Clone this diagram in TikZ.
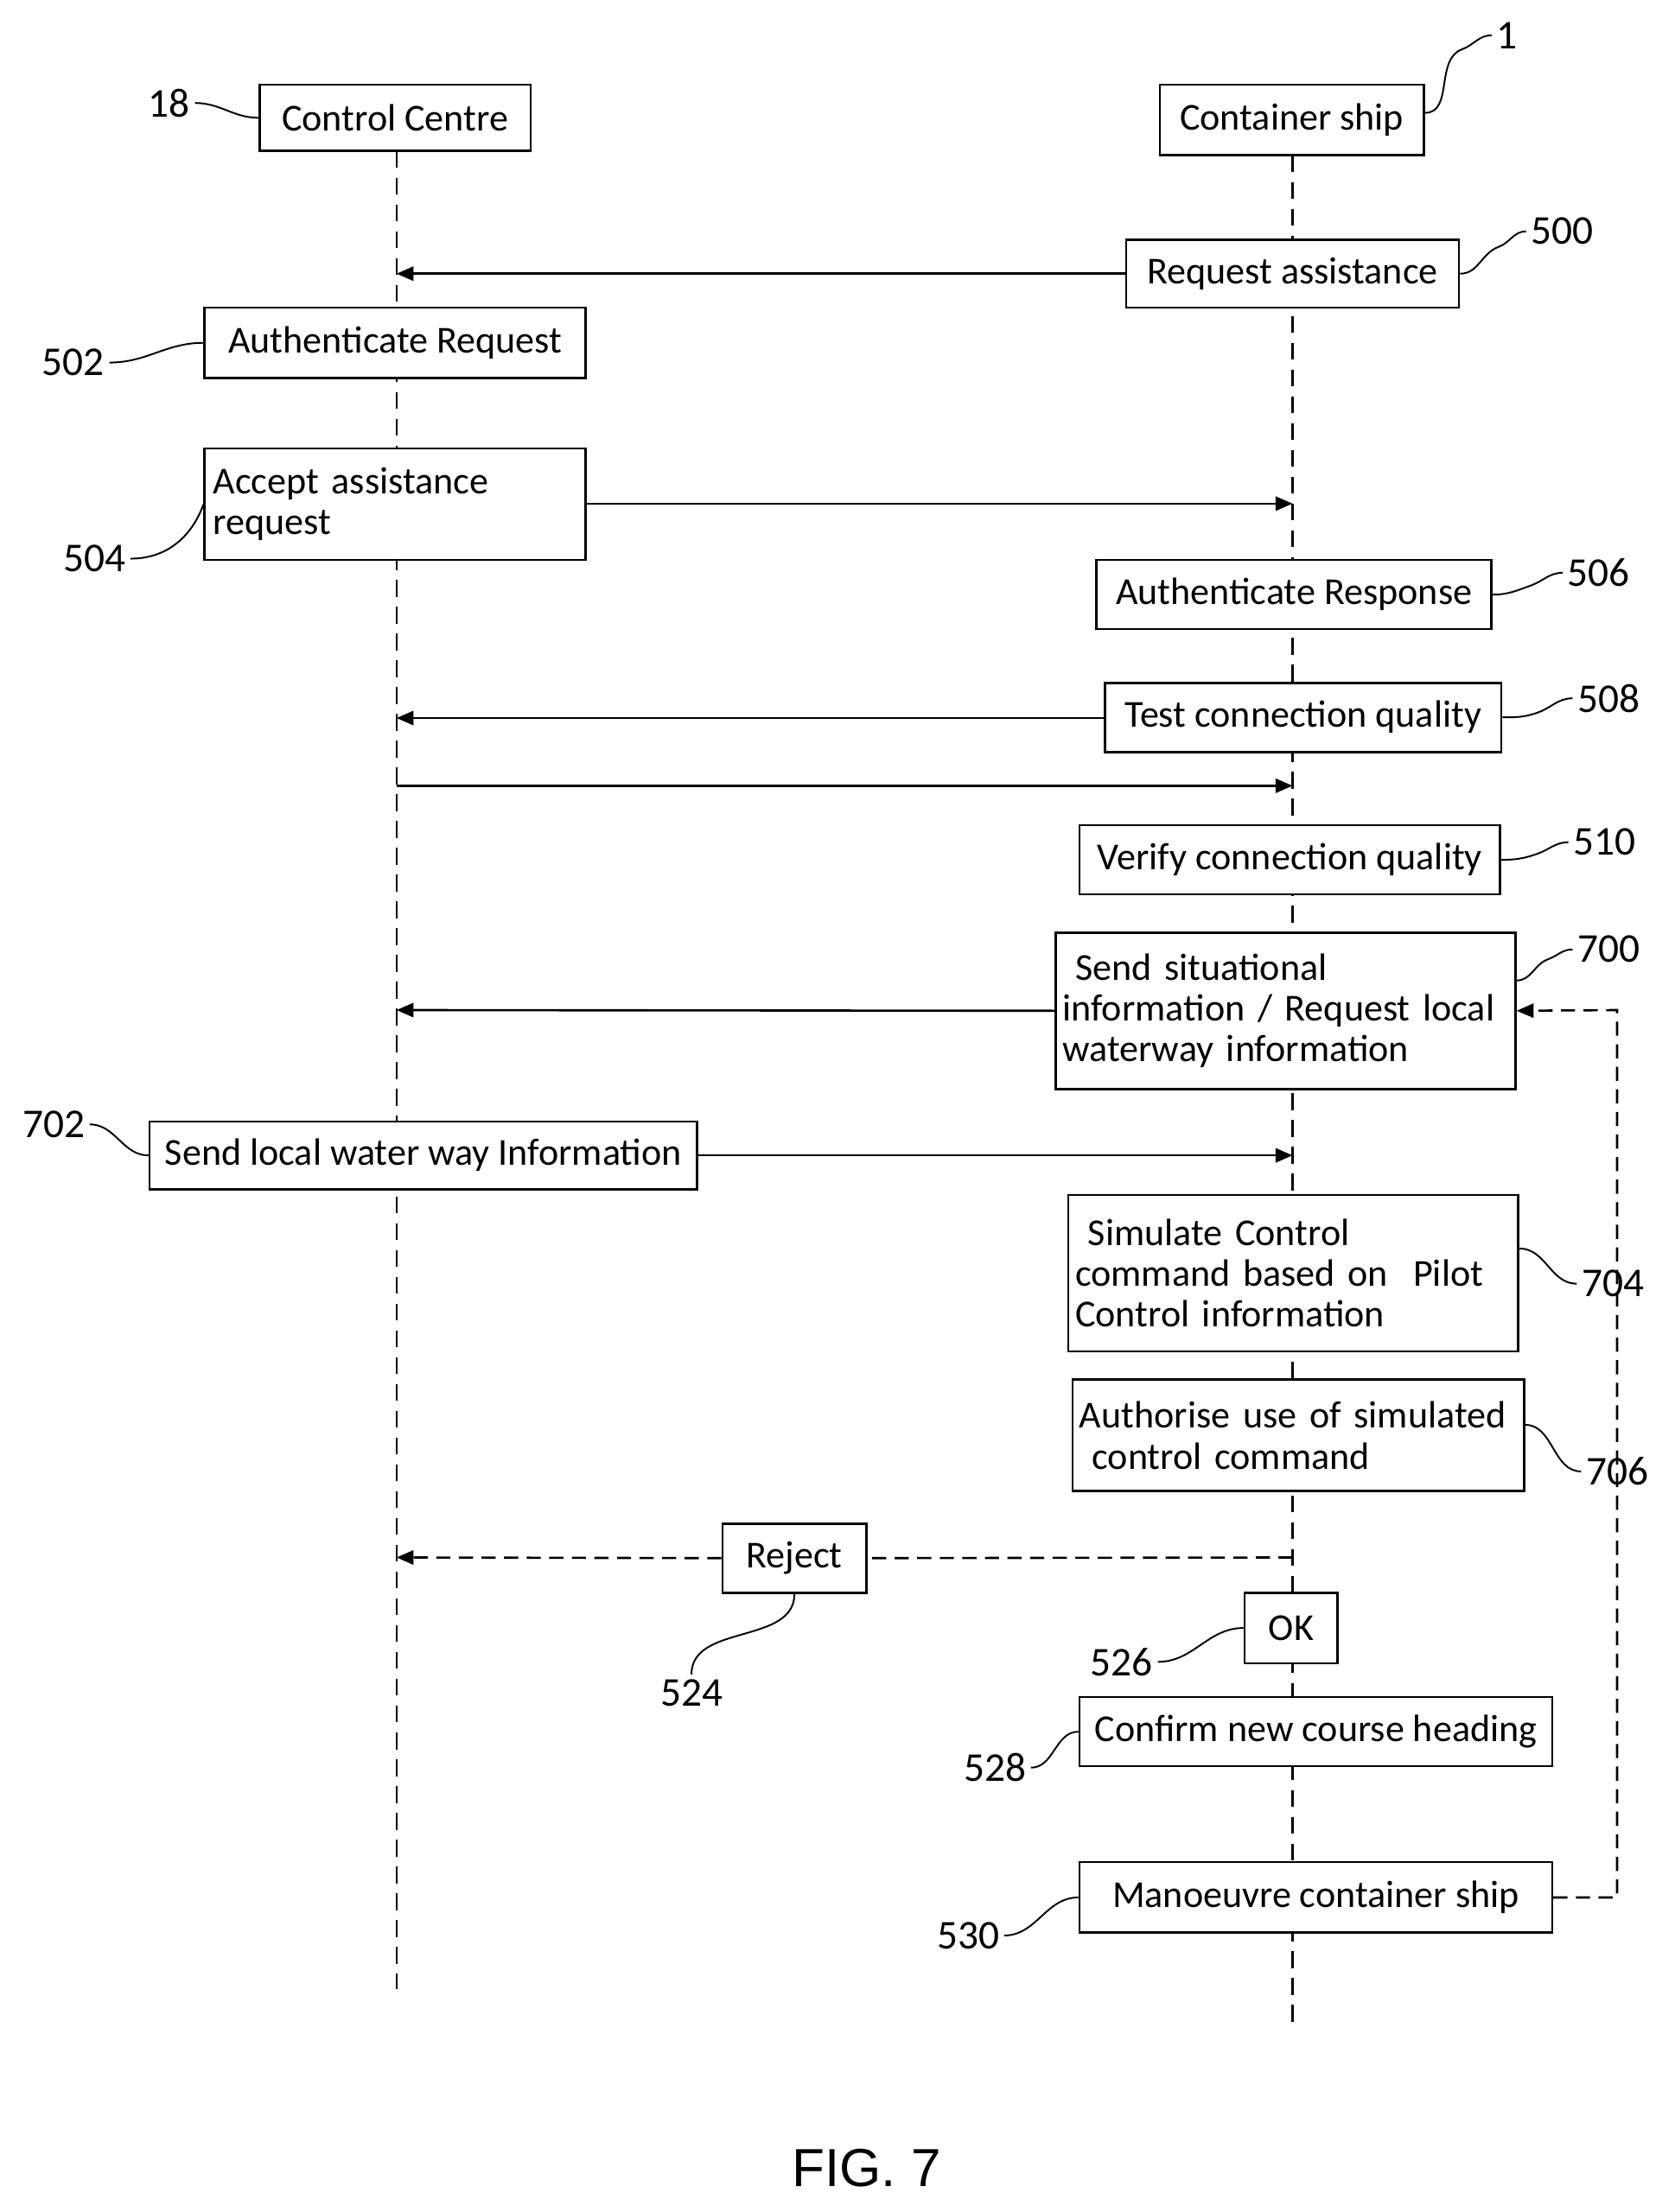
\documentclass[tikz,border=0pt]{standalone}
\usepackage{fontspec}
\setmainfont{Carlito}
\newfontfamily\figfont{Liberation Sans}
\usetikzlibrary{arrows.meta}
\begin{document}
\begin{tikzpicture}[x=1pt,y=-1pt,
  box/.style={draw,line width=1.6pt,inner sep=3pt,font=\fontsize{27}{27}\selectfont},
  mbox/.style={box,align=left,font=\fontsize{27}{29}\selectfont},
  life/.style={line width=1.5pt,dash pattern=on 12pt off 7pt},
  msg/.style={line width=1.6pt,-{Triangle[length=12pt,width=10pt]}},
  dmsg/.style={msg,dash pattern=on 10pt off 6pt},
  lab/.style={font=\fontsize{29}{29}\selectfont},
  lead/.style={line width=1.2pt}]
\useasboundingbox (0,0) rectangle (1187,1568);
% lifelines
\coordinate (L0) at (281,107); \coordinate (L1) at (281,1410);
\coordinate (R0) at (916,110); \coordinate (R1) at (916,1435);
\draw[life] (L0) -- (L1);
\draw[life] (R0) -- (R1);
% boxes
\node[box,minimum width=192,minimum height=47] (cc) at (280,83.5) {Control Centre};
\node[box,minimum width=187,minimum height=50] (cs) at (915.5,85) {Container ship};
\node[box,fill=white,minimum width=236,minimum height=48] (b500) at (916,194) {Request assistance};
\node[box,fill=white,minimum width=270,minimum height=50] (b502) at (280,243) {Authenticate Request};
\node[mbox,fill=white,minimum width=270,minimum height=79,text width=258] (b504) at (280,357.5) {Accept assistance\\ request};
\node[box,fill=white,minimum width=280,minimum height=49] (b506) at (917,421.5) {Authenticate Response};
\node[box,fill=white,minimum width=281,minimum height=49] (b508) at (923.5,508.5) {Test connection quality};
\node[box,fill=white,minimum width=298,minimum height=49] (b510) at (914,609.5) {Verify connection quality};
\node[mbox,fill=white,minimum width=326,minimum height=111,text width=316] (b700) at (911,716.5) {~Send situational\\information / Request local\\waterway information};
\node[box,fill=white,minimum width=388,minimum height=48] (b702) at (300,819) {Send local water way Information};
\node[mbox,fill=white,minimum width=319,minimum height=111,text width=309] (b704) at (916.5,902.5) {~Simulate Control\\ command based on~ Pilot\\ Control information};
\node[mbox,fill=white,minimum width=320,minimum height=79,text width=310] (b706) at (920,1017.5) {Authorise use of simulated\\ ~control command};
\node[box,fill=white,minimum width=102,minimum height=49] (b524) at (563,1104.5) {Reject};
\node[box,fill=white,minimum width=66,minimum height=50] (b526) at (915,1154) {OK};
\node[box,fill=white,minimum width=335,minimum height=49] (b528) at (932.5,1227.5) {Confirm new course heading};
\node[box,fill=white,minimum width=335,minimum height=50] (b530) at (932.5,1345) {Manoeuvre container ship};
% lifeline points
\coordinate (l194) at (281,194); \coordinate (r357) at (916,357);
\coordinate (l509) at (281,509); \coordinate (l557) at (281,557); \coordinate (r557) at (916,557);
\coordinate (l716) at (281,716); \coordinate (r819) at (916,819);
\coordinate (r1104) at (916,1104); \coordinate (l1104) at (281,1104);
\coordinate (c1) at (1146,1345); \coordinate (c2) at (1146,716);
% messages
\draw[msg] (b500.west) -- (l194);
\draw[msg] (b504.east|-r357) -- (r357);
\draw[msg] (b508.west|-l509) -- (l509);
\draw[msg] (l557) -- (r557);
\draw[msg] (b700.west) -- (l716);
\draw[msg] (b702.east) -- (r819);
\draw[line width=1.6pt,dash pattern=on 10pt off 6pt] (r1104) -- (b524.east);
\draw[dmsg] (b524.west) -- (l1104);
\draw[dmsg] (b530.east) -- (c1) -- (c2) -- (b700.east);
% labels
\node[lab] (t18) at (120,73) {18};
\node[lab] (t1) at (1068,25) {1};
\node[lab] (t500) at (1107,164) {500};
\node[lab] (t502) at (52,257) {502};
\node[lab] (t504) at (67,396) {504};
\node[lab] (t506) at (1133,406) {506};
\node[lab] (t508) at (1140,495) {508};
\node[lab] (t510) at (1137,597) {510};
\node[lab] (t700) at (1140,673) {700};
\node[lab] (t702) at (38,797) {702};
\node[lab] (t704) at (1143,910) {704};
\node[lab] (t706) at (1146,1043) {706};
\node[lab] (t524) at (490,1200) {524};
\node[lab] (t526) at (795,1178) {526};
\node[lab] (t528) at (705,1253) {528};
\node[lab] (t530) at (686,1372) {530};
\node[font=\figfont\fontsize{38}{38}\selectfont] (fig) at (614,1537) {FIG. 7};
% leaders
\draw[lead] (t18.east) to[out=0,in=180] (cc.west);
\draw[lead] (cs.east|-80,80) to[out=0,in=200] (1036,35) to[out=20,in=180] (t1.west);
\draw[lead] (b500.east) to[out=0,in=200] (1062,175) to[out=20,in=180] (t500.west);
\draw[lead] (t502.east) to[out=0,in=180] (b502.west);
\draw[lead] (t504.east) to[out=0,in=250] (b504.west);
\draw[lead] (b506.east) to[out=0,in=200] (1085,415) to[out=20,in=180] (t506.west);
\draw[lead] (b508.east) to[out=0,in=200] (1090,505) to[out=20,in=180] (t508.west);
\draw[lead] (b510.east) to[out=0,in=200] (1090,605) to[out=20,in=180] (t510.west);
\draw[lead] (b700.east|-700,695) to[out=0,in=200] (1097,680) to[out=20,in=180] (t700.west);
\draw[lead] (t702.east) to[out=0,in=180] (b702.west);
\draw[lead] (b704.east|-880,885) to[out=0,in=180] (t704.west);
\draw[lead] (b706.east|-1010,1010) to[out=0,in=180] (t706.west);
\draw[lead] (t524.north) to[out=90,in=270] (b524.south);
\draw[lead] (t526.east) to[out=0,in=180] (b526.west);
\draw[lead] (t528.east) to[out=0,in=180] (b528.west);
\draw[lead] (t530.east) to[out=0,in=180] (b530.west);
\end{tikzpicture}
\end{document}
